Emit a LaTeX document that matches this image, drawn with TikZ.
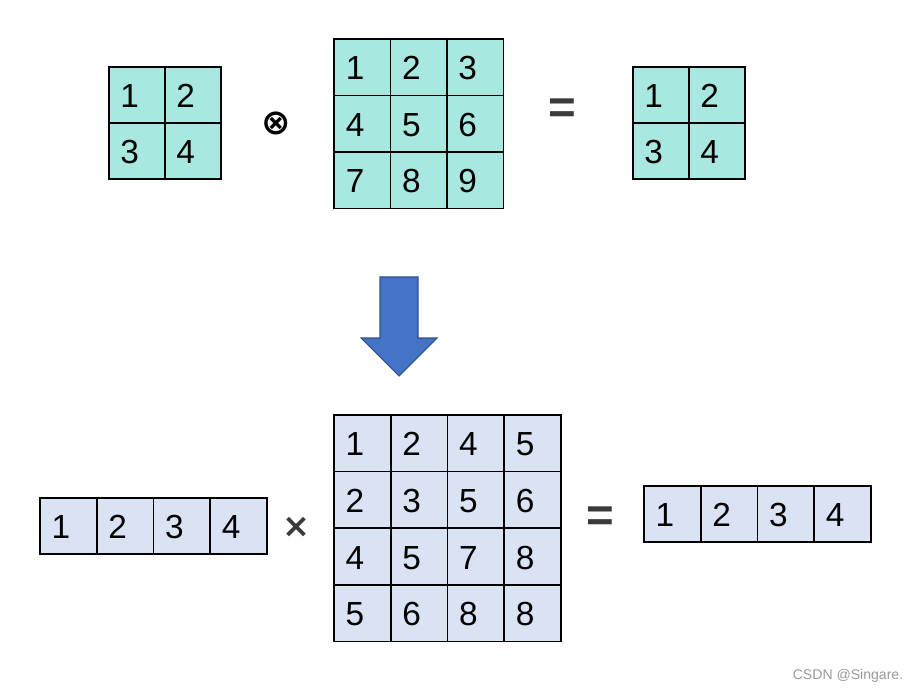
\documentclass[tikz,border=0pt]{standalone}
\usepackage{fontspec}
\setmainfont{Liberation Sans}
\newfontfamily\symfont{DejaVu Sans}
\usepackage{tikz}
\definecolor{TealCell}{HTML}{A9E8E1}
\definecolor{BlueCell}{HTML}{DAE3F3}
\definecolor{ArrowFill}{HTML}{4472C4}
\definecolor{ArrowLine}{HTML}{2F528F}
\definecolor{OpGrey}{HTML}{3A3A3A}
\tikzset{
    cell/.style={draw, line width=0.9pt, minimum height=1.13cm, inner xsep=0.23cm, inner ysep=0pt,
        text width=0.67cm, align=left, text height=0.5cm, text depth=0cm,
        font=\fontsize{19}{21}\selectfont},
    tealcell/.style={cell, fill=TealCell},
    bluecell/.style={cell, fill=BlueCell},
    op/.style={text=OpGrey, inner sep=0pt}
}

\begin{document}
\begin{tikzpicture}[x=0.02cm, y=-0.02cm]
        \useasboundingbox (0,0) rectangle (912,692);

        % top: 2x2 kernel, 3x3 input, 2x2 output
        \foreach \v [count=\i from 0] in {1,2,3,4}
            \node[tealcell] (k\v) at ({137+56*mod(\i,2)}, {95+56*int(\i/2)}) {\v};
        \foreach \v [count=\i from 0] in {1,...,9}
            \node[tealcell] (in\v) at ({362.5+56.3*mod(\i,3)}, {67.5+56.3*int(\i/3)}) {\v};
        \foreach \v [count=\i from 0] in {1,2,3,4}
            \node[tealcell] (out\v) at ({661+56*mod(\i,2)}, {95+56*int(\i/2)}) {\v};

        \node[op, text=black] (otimes) at (276,123) {\symfont\bfseries\fontsize{20}{22}\selectfont ⊗};
        \node[op] (eqtop) at (562,111) {\bfseries\fontsize{27}{28}\selectfont =};

        % arrow
        \draw[ArrowLine, fill=ArrowFill, line width=0.6pt]
            (380,277) -- (418,277) -- (418,338) -- (437,338) -- (399,376)
            -- (361,338) -- (380,338) -- cycle;

        % bottom: vector times matrix
        \foreach \v [count=\i from 0] in {1,2,3,4}
            \node[bluecell] (kv\v) at ({68.4+56.75*\i}, 526) {\v};
        \foreach \v [count=\i from 1] in {1,2,4,5,2,3,5,6,4,5,7,8,5,6,8,8}
            \node[bluecell] (mat\i) at ({362.4+56.75*mod(\i-1,4)}, {443.3+56.6*int((\i-1)/4)}) {\v};
        \foreach \v [count=\i from 0] in {1,2,3,4}
            \node[bluecell] (res\v) at ({672.4+56.75*\i}, 514) {\v};

        \node[op] (times) at (296,527) {\symfont\bfseries\fontsize{19}{20}\selectfont ×};
        \node[op] (eqbot) at (600,519) {\bfseries\fontsize{27}{28}\selectfont =};

        \node[text=gray!80, inner sep=0pt] (mark) at (848,676) {\fontsize{8}{9}\selectfont CSDN @Singare.};
    \end{tikzpicture}
\end{document}
